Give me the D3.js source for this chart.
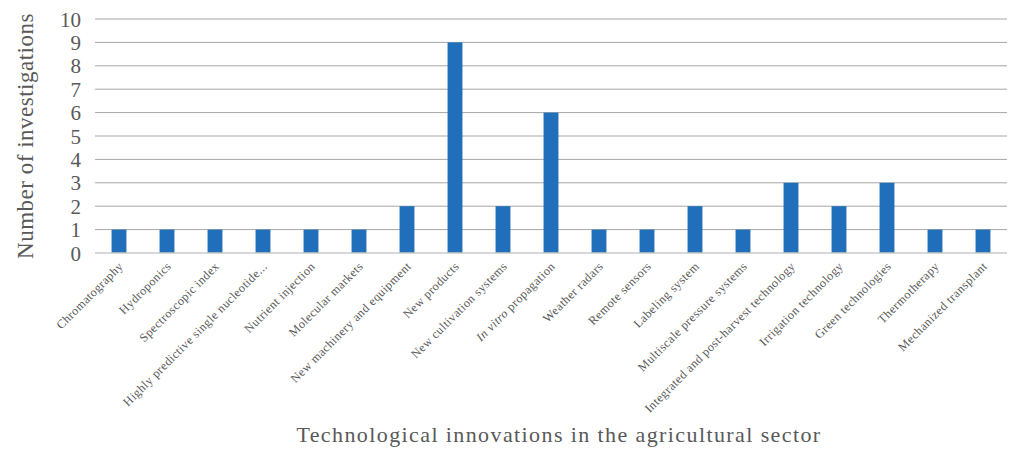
<!DOCTYPE html>
<html>
<head>
<meta charset="utf-8">
<script src="https://cdn.jsdelivr.net/npm/d3@7"></script>
<style>
  body { margin: 0; background: #fff; }
  svg { display: block; font-family: "Liberation Serif", "DejaVu Serif", serif; }
</style>
</head>
<body>
<svg id="chart"></svg>
<script>
// --- DATA ---
const categories = [
  "Chromatography", "Hydroponics", "Spectroscopic index", "Highly predictive single nucleotide...",
  "Nutrient injection", "Molecular markets", "New machinery and equipment", "New products",
  "New cultivation systems", "In vitro propagation", "Weather radars", "Remote sensors",
  "Labeling system", "Multiscale pressure systems", "Integrated and post-harvest technology",
  "Irrigation technology", "Green technologies", "Thermotherapy", "Mechanized transplant"
];
const investigations = [1, 1, 1, 1, 1, 1, 2, 9, 2, 6, 1, 1, 2, 1, 3, 2, 3, 1, 1];
const yTicks = [0, 1, 2, 3, 4, 5, 6, 7, 8, 9, 10];

const width = 1012, height = 451;
const margin = { top: 19, right: 5, bottom: 198, left: 95 };
const serif = '"Liberation Serif", "DejaVu Serif", serif';

const svg = d3.select("#chart").attr("width", width).attr("height", height);

// --- SCALES ---
const x = d3.scaleBand().domain(categories)
  .range([margin.left, width - margin.right]).paddingInner(0.69).paddingOuter(0.345);
const y = d3.scaleLinear().domain([0, 10]).range([height - margin.bottom, margin.top]);

// --- GRID ---
svg.append("g").selectAll("line")
  .data(yTicks.filter(d => d > 0)).join("line")
  .attr("x1", margin.left).attr("x2", width - margin.right)
  .attr("y1", d => y(d)).attr("y2", d => y(d))
  .attr("stroke", "#a6a6a6").attr("stroke-width", 1);

// --- BARS ---
svg.append("g").selectAll("rect")
  .data(investigations).join("rect")
  .attr("x", (d, i) => x(categories[i]))
  .attr("y", d => y(d))
  .attr("width", x.bandwidth())
  .attr("height", d => y(0) - y(d))
  .attr("fill", "#1f6fba");

// baseline
svg.append("line")
  .attr("x1", margin.left).attr("x2", width - margin.right)
  .attr("y1", y(0)).attr("y2", y(0))
  .attr("stroke", "#c8c8c8").attr("stroke-width", 1.5);

// --- Y AXIS ---
const yAxis = svg.append("g")
  .attr("transform", `translate(${margin.left},0)`)
  .call(d3.axisLeft(y).tickValues(yTicks).tickSize(0).tickPadding(14))
  .attr("font-family", serif);
yAxis.select(".domain").remove();
yAxis.selectAll("text")
  .attr("fill", "#595959")
  .style("font-family", serif)
  .style("font-size", "21px")
  .attr("dy", "0.34em");

// --- X AXIS LABELS ---
const labels = svg.append("g").selectAll("text")
  .data(categories).join("text")
  .attr("transform", d => `translate(${x(d) + x.bandwidth() / 2 + 5},${y(0) + 14}) rotate(-45)`)
  .attr("text-anchor", "end")
  .attr("fill", "#595959")
  .style("font-size", "12.2px")
  .style("letter-spacing", "0.45px");

labels.each(function (d) {
  const t = d3.select(this);
  if (d.startsWith("In vitro")) {
    t.append("tspan").style("font-style", "italic").text("In vitro");
    t.append("tspan").text(d.slice(8));
  } else {
    t.text(d);
  }
});

// --- AXIS TITLES ---
svg.append("text")
  .attr("transform", `translate(33,${(y(0) + y(10)) / 2}) rotate(-90)`)
  .attr("text-anchor", "middle")
  .attr("fill", "#595959")
  .style("font-size", "23px")
  .style("letter-spacing", "0.5px")
  .text("Number of investigations");

svg.append("text")
  .attr("x", (margin.left + width - margin.right) / 2 + 8)
  .attr("y", 442)
  .attr("text-anchor", "middle")
  .attr("fill", "#595959")
  .style("font-size", "22px")
  .style("letter-spacing", "1.4px")
  .text("Technological innovations in the agricultural sector");
</script>
</body>
</html>
